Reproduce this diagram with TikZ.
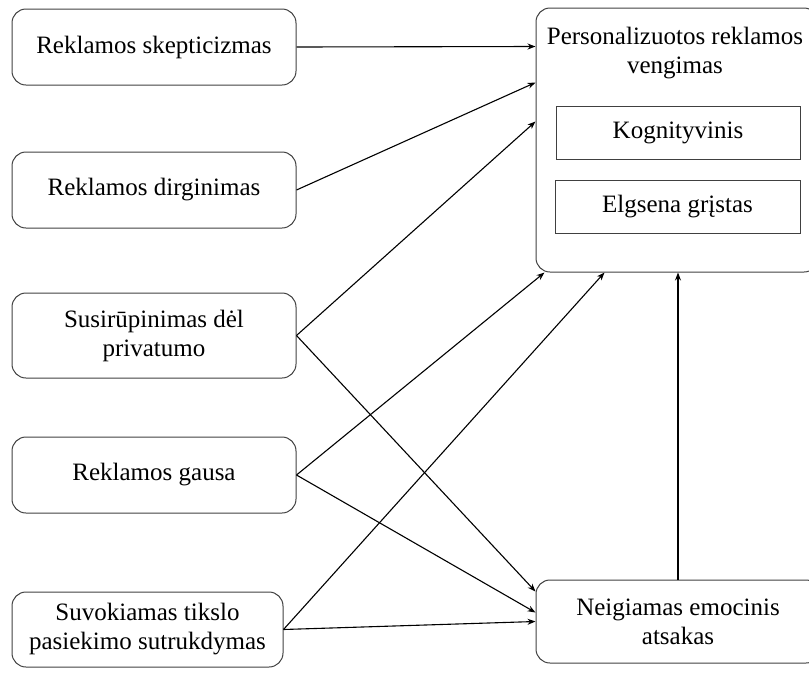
\documentclass[tikz,border=0pt]{standalone}
\usepackage{fontspec}
\setmainfont{Liberation Serif}
\usetikzlibrary{arrows.meta,calc}
\begin{document}
\begin{tikzpicture}[x=1pt,y=-1pt,
  box/.style={draw=black!75, line width=1pt, rounded corners=14pt, inner sep=0pt,
    font=\fontsize{25}{29}\selectfont, align=center},
  subbox/.style={draw=black!75, line width=1pt, inner sep=0pt,
    font=\fontsize{25}{29}\selectfont},
  caption/.style={inner sep=0pt, font=\fontsize{25}{29}\selectfont, align=center},
  link/.style={line width=1.1pt, -{Stealth[length=8pt,width=6pt]}}]
\useasboundingbox (0,0) rectangle (809,673);

% factor boxes on the left
\node[box, minimum width=284pt, minimum height=76pt] (b1) at (154,47) {Reklamos skepticizmas};
\node[box, minimum width=284pt, minimum height=76pt] (b2) at (154,190) {Reklamos dirginimas};
\node[box, minimum width=284pt, minimum height=85pt] (b3) at (154,335.5) {Susirūpinimas dėl\\privatumo};
\node[box, minimum width=284pt, minimum height=76pt] (b4) at (154,475) {Reklamos gausa};
\node[box, minimum width=271pt, minimum height=75pt] (b5) at (147.5,629.5) {Suvokiamas tikslo\\pasiekimo sutrukdymas};

% outcome box with its two components
\node[box, minimum width=282pt, minimum height=264pt] (av) at (677,140) {};
\node[caption] (avt) at (675,53) {Personalizuotos reklamos\\vengimas};
\node[subbox, minimum width=244pt, minimum height=53pt] (k1) at (678,132.5) {Kognityvinis};
\node[subbox, minimum width=245pt, minimum height=53pt] (k2) at (677.5,206.5) {Elgsena grįstas};

% mediator
\node[box, minimum width=284pt, minimum height=83pt] (ne) at (678,621.5) {Neigiamas emocinis\\atsakas};

% arrow end points on the borders
\coordinate (a1) at ($(av.north west)+(0,39)$);
\coordinate (a2) at ($(av.north west)+(0,75)$);
\coordinate (a3) at ($(av.north west)+(0,114)$);
\coordinate (a4) at ($(av.south west)+(9,0)$);
\coordinate (a5) at ($(av.south west)+(69,0)$);
\coordinate (n1) at ($(ne.north west)+(0,12)$);
\coordinate (n2) at ($(ne.north west)+(0,33)$);
\coordinate (n3) at ($(ne.north west)+(0,42)$);

\draw[link] (b1.east) -- (a1);
\draw[link] (b2.east) -- (a2);
\draw[link] (b3.east) -- (a3);
\draw[link] (b3.east) -- (n1);
\draw[link] (b4.east) -- (a4);
\draw[link] (b4.east) -- (n2);
\draw[link] (b5.east) -- (a5);
\draw[link] (b5.east) -- (n3);
\draw[link] (ne.north) -- (ne.north |- av.south);
\end{tikzpicture}
\end{document}
